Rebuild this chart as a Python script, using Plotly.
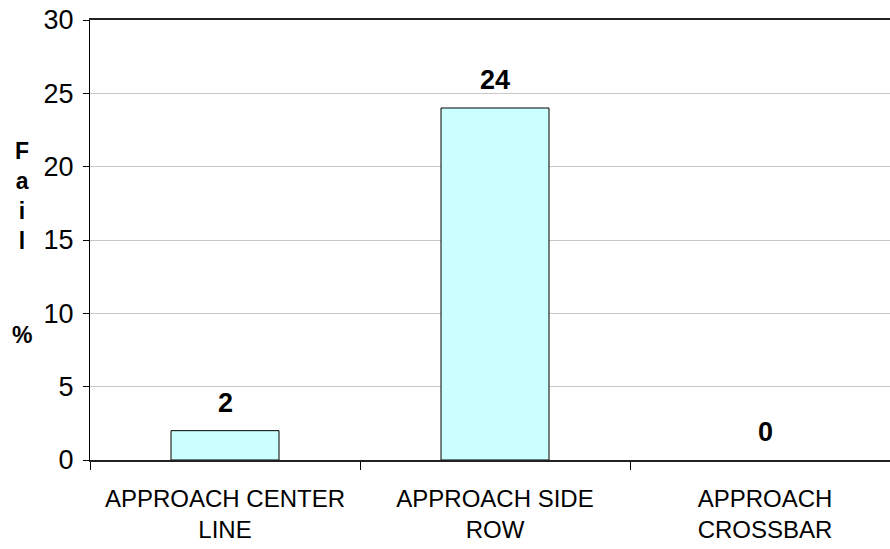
import plotly.graph_objects as go

categories = ["APPROACH CENTER LINE", "APPROACH SIDE ROW", "APPROACH CROSSBAR"]
tick_labels = ["APPROACH CENTER<br>LINE", "APPROACH SIDE<br>ROW", "APPROACH<br>CROSSBAR"]
fail_pct = [2, 24, 0]
y_ticks = [0, 5, 10, 15, 20, 25, 30]

FONT = "Liberation Sans, Arial, sans-serif"

fig = go.Figure()
fig.add_trace(go.Bar(
    x=categories, y=fail_pct, width=0.4,
    marker=dict(color="#CCFFFF",
                line=dict(color="black", width=[1 if v > 0 else 0 for v in fail_pct])),
    hoverinfo="skip",
))

for c, v in zip(categories, fail_pct):
    fig.add_annotation(x=c, y=v, xref="x", yref="y", text=str(v), showarrow=False,
                       yanchor="bottom", yshift=11,
                       font=dict(family=FONT, size=27, color="black", weight="bold"))

# vertical stacked y-axis title
fig.add_annotation(x=0, y=0.60, xref="paper", yref="paper", xanchor="center", yanchor="middle",
                   xshift=-68, text="F<br>a<br>i<br>l", showarrow=False,
                   font=dict(family=FONT, size=23, color="black", weight="bold"))
fig.add_annotation(x=0, y=0.285, xref="paper", yref="paper", xanchor="center", yanchor="middle",
                   xshift=-68, text="%", showarrow=False,
                   font=dict(family=FONT, size=23, color="black", weight="bold"))

fig.update_layout(
    width=890, height=549,
    margin=dict(l=90, r=0, t=20, b=89),
    paper_bgcolor="white", plot_bgcolor="white",
    showlegend=False,
    font=dict(family=FONT, color="black"),
)
fig.update_xaxes(
    type="category", categoryorder="array", categoryarray=categories,
    tickvals=categories, ticktext=tick_labels,
    range=[-0.5, 2.5 - 10 / 270],
    tickson="boundaries", ticks="outside", ticklen=8, tickcolor="black", tickwidth=1,
    showline=True, linecolor="#222222", linewidth=2, mirror=True,
    showgrid=False, zeroline=False,
    tickfont=dict(family=FONT, size=24, color="black"),
    ticklabelstandoff=16,
)
fig.update_yaxes(
    range=[0, 30], tickvals=y_ticks,
    ticks="outside", ticklen=6, tickcolor="black", tickwidth=1,
    showline=True, linecolor="black", linewidth=1,
    showgrid=True, gridcolor="#C8C8C8", gridwidth=1, zeroline=False,
    tickfont=dict(family=FONT, size=27, color="black"),
    ticklabelstandoff=4,
)

fig.write_html("out.html")
